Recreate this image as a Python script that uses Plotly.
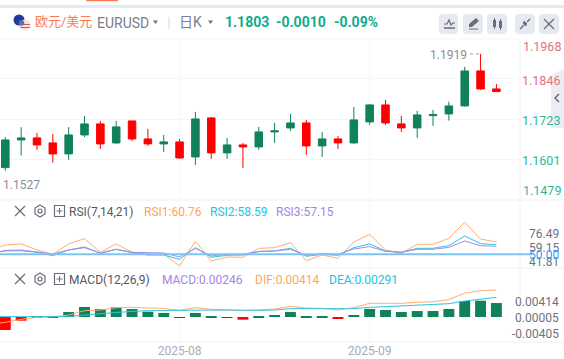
import plotly.graph_objects as go

W, H = 564, 359
idx = list(range(32))
line_idx = list(range(-1, 32))

open_ = [1.15749,1.16596,1.16657,1.16504,1.16168,1.16748,1.17085,1.16504,1.17176,1.16626,1.16474,1.16535,1.16076,1.17268,1.16199,1.16443,1.16382,1.1684,1.16962,1.17115,1.16413,1.16626,1.16504,1.17146,1.17665,1.17085,1.16962,1.17338,1.1739,1.17635,1.18704,1.18154]
high = [1.16687,1.16984,1.1681,1.16779,1.16984,1.17329,1.17176,1.17176,1.17176,1.16932,1.16748,1.16626,1.17451,1.17298,1.16657,1.16504,1.16993,1.17115,1.1739,1.17207,1.1684,1.16718,1.17604,1.17696,1.17818,1.17329,1.17482,1.17512,1.17766,1.18827,1.19224,1.18307]
low = [1.15657,1.16116,1.1629,1.15902,1.15984,1.16687,1.16321,1.16474,1.16565,1.16413,1.16229,1.16015,1.15832,1.16015,1.16015,1.1574,1.1629,1.16504,1.16871,1.16138,1.16076,1.16321,1.16474,1.17054,1.17054,1.1684,1.16657,1.17023,1.17185,1.17613,1.18124,1.18072]
close = [1.16596,1.16657,1.16443,1.16168,1.16748,1.17085,1.16474,1.16993,1.16626,1.16474,1.16535,1.16045,1.17237,1.16199,1.16443,1.16382,1.1684,1.16871,1.17115,1.16413,1.16626,1.16504,1.17207,1.17665,1.17115,1.16962,1.1736,1.17369,1.17635,1.18704,1.18154,1.18072]

rsi1 = [55.4,61.6,62.9,55.4,50.1,62.9,69.5,52.6,62.9,52.6,50.5,50.5,35.6,66.2,41.8,46.8,46.4,57.5,58.3,64.5,42.2,49.2,45.1,65.3,74.8,55.4,51.3,62.5,62.5,69.9,89.7,69.1,65.3]
rsi2 = [51.3,54.2,54.6,52.6,48.4,55.4,59.2,51.3,56.3,52.1,49.2,49.2,43.9,58.3,46.4,48.8,49.2,53.4,54.2,57.5,47.6,50.1,48.8,58.3,62.9,54.2,52.6,57.5,57.5,60.8,72.8,63.3,62.0]
rsi3 = [50.1,55.0,55.4,53.4,50.5,55.4,58.3,51.7,56.3,52.6,51.7,51.7,46.8,57.5,48.0,50.1,50.1,53.8,54.2,56.3,48.8,50.9,50.1,56.7,59.6,53.8,52.6,56.3,56.3,58.7,66.6,60.8,60.0]

hist = [-.00337,-.00095,.00003,.00004,.00129,.00259,.00207,.0025,.00207,.00138,.00104,-.0002,.00104,.0002,-.0002,-.00069,.0002,.00052,.00129,.0002,.0002,-.00043,.00052,.00207,.00181,.00129,.00155,.00155,.00207,.00414,.00423,.00362]
dif = [-.0019,-.00138,-.0006,-.00009,.00009,.00052,.00164,.00181,.00242,.0025,.00233,.00224,.00173,.00242,.00198,.00181,.00164,.00181,.00207,.00276,.00233,.00224,.00181,.00242,.00354,.00354,.00354,.0038,.00397,.00449,.00621,.00682,.00699]
dea = [.00009,.00009,-.00009,0,.00009,.00009,.00052,.00086,.00121,.00147,.00164,.00173,.00181,.00181,.00181,.00181,.00173,.00173,.00181,.00216,.00216,.00216,.00207,.00216,.0025,.00268,.00285,.00293,.00311,.00345,.00414,.00466,.00509]

price_grid = [1.1846, 1.1723, 1.1601]
rsi_ticks = ["76.49", "59.15", "41.81"]
macd_ticks = ["0.00414", "0.00005", "-0.00405"]
month_pos = [11, 23]
month_labels = ["2025-08", "2025-09"]

GREEN, RED = "#10825A", "#FF0000"
GRID = "#F5F6FA"
FONT = "Roboto, 'Noto Sans CJK SC', sans-serif"
GRAY = "#8A8D99"

def px(x): return x / W
def py(y): return 1 - y / H

fig = go.Figure()
fig.add_trace(go.Candlestick(x=idx, open=open_, high=high, low=low, close=close, xaxis="x", yaxis="y",
    increasing=dict(line=dict(color=GREEN, width=1), fillcolor=GREEN),
    decreasing=dict(line=dict(color=RED, width=1), fillcolor=RED),
    whiskerwidth=0, hoverinfo="skip"))
for vals, col in ((rsi1, "#FFAE6E"), (rsi2, "#2CC4DE"), (rsi3, "#A888E8")):
    fig.add_trace(go.Scatter(x=line_idx, y=vals, mode="lines", line=dict(color=col, width=1), xaxis="x2", yaxis="y2", hoverinfo="skip"))
fig.add_trace(go.Bar(x=idx, y=hist, marker=dict(color=[GREEN if v >= 0 else RED for v in hist], line=dict(width=0)),
    width=0.69, xaxis="x3", yaxis="y3", hoverinfo="skip"))
for vals, col in ((dif, "#FFAE6E"), (dea, "#2CC4DE")):
    fig.add_trace(go.Scatter(x=line_idx, y=vals, mode="lines", line=dict(color=col, width=1), xaxis="x3", yaxis="y3", hoverinfo="skip"))

shapes, ann = [], []

def line(x0, y0, x1, y1, color, width=1, dash=None):
    shapes.append(dict(type="line", xref="paper", yref="paper", x0=px(x0), y0=py(y0), x1=px(x1), y1=py(y1),
                       line=dict(color=color, width=width, dash=dash)))
def rect(x0, y0, x1, y1, fill, border=None, bw=1):
    shapes.append(dict(type="rect", xref="paper", yref="paper", x0=px(x0), y0=py(y0), x1=px(x1), y1=py(y1),
                       fillcolor=fill, line=dict(color=border or fill, width=bw if border else 0)))
def poly(points, fill=None, border=None, bw=1, closed=True):
    d = "M" + " L".join(f"{px(a):.5f},{py(b):.5f}" for a, b in points) + (" Z" if closed else "")
    shapes.append(dict(type="path", xref="paper", yref="paper", path=d, fillcolor=fill or "rgba(0,0,0,0)",
                       line=dict(color=border or "rgba(0,0,0,0)", width=bw if border else 0)))
def circle(cx, cy, r, fill):
    shapes.append(dict(type="circle", xref="paper", yref="paper", x0=px(cx-r), x1=px(cx+r), y0=py(cy+r), y1=py(cy-r),
                       fillcolor=fill, line=dict(width=0)))
def rrect(x0, y0, x1, y1, r, fill):
    X0, X1, Y0, Y1 = px(x0), px(x1), py(y0), py(y1)
    rx, ry = r / W, r / H
    d = (f"M{X0+rx:.5f},{Y0:.5f} L{X1-rx:.5f},{Y0:.5f} Q{X1:.5f},{Y0:.5f} {X1:.5f},{Y0-ry:.5f} "
         f"L{X1:.5f},{Y1+ry:.5f} Q{X1:.5f},{Y1:.5f} {X1-rx:.5f},{Y1:.5f} L{X0+rx:.5f},{Y1:.5f} "
         f"Q{X0:.5f},{Y1:.5f} {X0:.5f},{Y1+ry:.5f} L{X0:.5f},{Y0-ry:.5f} Q{X0:.5f},{Y0:.5f} {X0+rx:.5f},{Y0:.5f} Z")
    shapes.append(dict(type="path", xref="paper", yref="paper", path=d, fillcolor=fill, line=dict(width=0)))
def text(x, y, s, color, size=12, anchor="left", bold=False):
    ann.append(dict(xref="paper", yref="paper", x=px(x), y=py(y), text=f"<b>{s}</b>" if bold else s, showarrow=False,
                    xanchor=anchor, yanchor="middle", align=anchor, borderpad=0,
                    font=dict(color=color, size=size, family=FONT)))

# top band
rect(0, 5, W, 8, "#E6E9EF")
rrect(86, -2, 118, 1.2, 1, "#FF7A50")

# header
circle(19, 20, 5.5, "#1C3C9C")
circle(25, 25, 5.5, "#F7E3E3")
rect(20, 24, 30, 25, "#E05050"); rect(20, 27, 30, 28, "#E05050")
circle(21.5, 23, 2.8, "#5A6FA8")
text(33.5, 22, "欧元/美元", "#FF7A50", 13)
text(96, 23, "EURUSD", "#7B7E8C", 14)
poly([(153, 20.5), (158, 20.5), (155.5, 24)], fill="#6F7280")
line(169, 17, 169, 29, "#D5D7DE")
text(178, 22, "日K", "#7B7E8C", 14)
poly([(208, 20.5), (213, 20.5), (210.5, 24)], fill="#6F7280")
text(224, 22, "1.1803", "#0FAB8C", 14, bold=True)
text(275, 22, "-0.0010", "#0FAB8C", 14, bold=True)
text(333, 22, "-0.09%", "#0FAB8C", 14, bold=True)
for a, b in ((439, 458), (463, 483), (487, 507), (515, 535), (539, 559)):
    rrect(a, 14, b, 34, 4, "#E7E9F0")
ICON = "#6A6D7A"
poly([(444, 24), (447, 24), (449, 20), (451, 25), (453, 23), (455, 23)], border=ICON, bw=1.2, closed=False)
line(444, 28, 455, 28, ICON, 1.5)
poly([(469, 27), (469, 24), (476, 18), (479, 21), (472, 27)], fill=ICON)
line(469, 29, 478, 29, ICON, 1)
rect(493, 20, 496, 27, ICON); line(494.5, 18, 494.5, 29, ICON)
rect(499, 21, 502, 28, ICON); line(500.5, 19, 500.5, 30, ICON)
line(520, 29, 524, 25, ICON, 1.5); poly([(523, 23), (526, 23), (526, 26)], fill=ICON, border=ICON)
line(530, 19, 527, 22, ICON, 1.5); poly([(524, 24), (524, 21), (527, 24)], fill=ICON, border=ICON)
line(544, 19, 554, 29, ICON, 1.3); line(554, 19, 544, 29, ICON, 1.3)

# panel separators and edges
line(0, 39, 520, 39, GRID, 1)
line(0, 200, W, 200, "#EEF0F4", 1)
line(0, 268, W, 268, "#EEF0F4", 1)
line(520, 39, 520, 342, "#F1F2F6", 1)

# side tab
poly([(564, 69), (553, 74), (551, 80), (551, 128), (564, 128)], fill="#ECEDF2")
poly([(559, 94), (555, 98), (559, 102)], border="#6A6D7A", bw=1.5, closed=False)

# price labels
text(561.5, 46.5, "1.1968", "#E2707F", 12.5, "right")
for v, c in zip(price_grid, ("#E2707F", "#2FB79A", "#2FB79A")):
    ann.append(dict(xref="paper", yref="y", x=px(561.5), y=v, text=f"{v:.4f}", showarrow=False, xanchor="right",
                    yanchor="middle", yshift=-1.5, font=dict(color=c, size=12.5, family=FONT)))
text(561.5, 190.5, "1.1479", "#2FB79A", 12.5, "right")

# extreme marks
text(429.5, 55, "1.1919", GRAY, 12)
shapes.append(dict(type="line", xref="paper", yref="y", x0=px(470), x1=px(480), y0=max(high), y1=max(high),
                   line=dict(color="#A0A3AE", width=1, dash="dot")))
text(1.5, 185, "1.1527", GRAY, 12)

# RSI
shapes.append(dict(type="line", xref="paper", yref="y2", x0=0, x1=px(532), y0=50, y1=50, line=dict(color="#7CC4F5", width=2)))
for s in rsi_ticks:
    ann.append(dict(xref="paper", yref="y2", x=px(561), y=float(s), text=s, showarrow=False, xanchor="right",
                    yanchor="middle", yshift=-1, font=dict(color="#6F7280", size=12, family=FONT)))
ann.append(dict(xref="paper", yref="y2", x=px(561), y=50, text="50.00", showarrow=False, xanchor="right",
                yanchor="middle", yshift=-1, font=dict(color="#3D9BEA", size=12, family=FONT)))

def panel_icons(y):
    line(15, y-5, 25, y+5, ICON, 1.2); line(25, y-5, 15, y+5, ICON, 1.2)
    poly([(40, y-6), (45, y-3), (45, y+3), (40, y+6), (35, y+3), (35, y-3)], border=ICON, bw=1.2)
    shapes.append(dict(type="circle", xref="paper", yref="paper", x0=px(38), x1=px(42), y0=py(y+2), y1=py(y-2),
                       line=dict(color=ICON, width=1.2)))
    rect(54.5, y-5.5, 64.5, y+5.5, "rgba(0,0,0,0)", ICON, 1.2)
    line(56.5, y, 62.5, y, ICON, 1); line(59.5, y-3, 59.5, y+3, ICON, 1)

panel_icons(211)
text(68, 211.5, "RSI(7,14,21)", "#55585F", 12)
text(143, 211.5, "RSI1:60.76", "#FFA55C", 12)
text(209, 211.5, "RSI2:58.59", "#22C5E0", 12)
text(275, 211.5, "RSI3:57.15", "#A385E8", 12)

panel_icons(279)
text(68, 279.5, "MACD(12,26,9)", "#55585F", 12)
text(161, 279.5, "MACD:0.00246", "#A385E8", 12)
text(254, 279.5, "DIF:0.00414", "#FFA55C", 12)
text(328, 279.5, "DEA:0.00291", "#22C5E0", 12)

for s in macd_ticks:
    ann.append(dict(xref="paper", yref="y3", x=px(561), y=float(s), text=s, showarrow=False, xanchor="right",
                    yanchor="middle", yshift=-1, font=dict(color="#6F7280", size=12, family=FONT)))

x_range = [-0.335, 32.49]
x_dom = [0, 520 / W]
xcommon = dict(range=x_range, domain=x_dom, showline=False, zeroline=False, showgrid=True, gridcolor=GRID, gridwidth=1,
               tickmode="array", tickvals=month_pos, ticks="", fixedrange=True)

shapes.append(dict(type="line", xref="paper", yref="paper", x0=0, x1=1, y0=py(342), y1=py(342), line=dict(color="#EEF0F4", width=1)))

fig.update_layout(
    width=W, height=H, margin=dict(l=0, r=0, t=0, b=0), paper_bgcolor="white", plot_bgcolor="white",
    showlegend=False, boxgap=0.32, bargap=0.3, hovermode=False, font=dict(family=FONT),
    shapes=shapes, annotations=ann,
    xaxis=dict(**xcommon, anchor="y", showticklabels=False, rangeslider=dict(visible=False)),
    xaxis2=dict(**xcommon, anchor="y2", showticklabels=False),
    xaxis3=dict(**xcommon, anchor="y3", ticktext=month_labels, tickfont=dict(color="#A8ABB8", size=12, family=FONT)),
    yaxis=dict(domain=[py(199), py(39)], range=[1.1479, 1.1968], tickmode="array", tickvals=price_grid, showticklabels=False,
               showgrid=True, gridcolor=GRID, gridwidth=1, zeroline=False, fixedrange=True, anchor="x"),
    yaxis2=dict(domain=[py(268), py(200)], range=[33.1, 117.4], showticklabels=False, showgrid=False, zeroline=False,
                fixedrange=True, anchor="x2"),
    yaxis3=dict(domain=[py(342), py(268)], range=[-.00647, .01269], showticklabels=False, showgrid=False, zeroline=False,
                fixedrange=True, anchor="x3"),
)

fig.write_html("out.html", config=dict(displayModeBar=False), post_script="document.body.style.margin='0';document.body.style.overflow='hidden';")
